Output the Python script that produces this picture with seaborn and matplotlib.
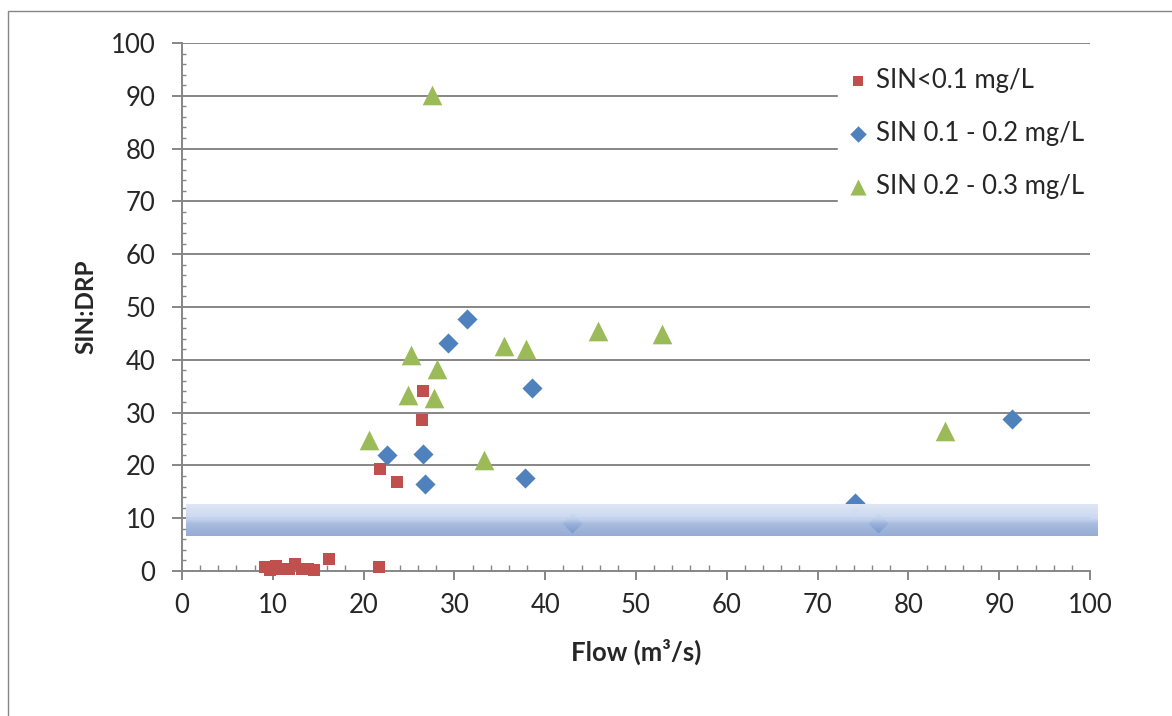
import numpy as np
import pandas as pd
import matplotlib
matplotlib.use("Agg")
import matplotlib.pyplot as plt
import seaborn as sns
from matplotlib.patches import Rectangle
from matplotlib.ticker import MultipleLocator
from matplotlib.colors import to_rgba

# ---------------- data ----------------
low_flow = [9.1, 9.7, 10.3, 10.8, 11.8, 12.4, 13.2, 13.9, 14.5, 16.2, 21.7, 21.8, 23.7, 26.4, 26.5]
low_ratio = [0.7, 0.2, 1.0, 0.3, 0.3, 1.4, 0.3, 0.3, 0.1, 2.3, 0.7, 19.3, 16.9, 28.6, 34.1]

mid_flow = [22.6, 26.5, 26.8, 29.3, 31.4, 37.8, 38.5, 43.0, 74.1, 76.7, 91.4]
mid_ratio = [22.0, 22.2, 16.5, 43.2, 47.7, 17.6, 34.7, 9.0, 12.9, 9.0, 28.8]

high_flow = [20.6, 24.9, 25.2, 27.5, 27.8, 28.1, 33.3, 35.5, 37.9, 45.8, 52.9, 84.0]
high_ratio = [24.8, 33.3, 40.9, 90.2, 32.8, 38.3, 21.0, 42.6, 42.0, 45.5, 44.9, 26.5]

series_labels = ["SIN<0.1 mg/L", "SIN 0.1 - 0.2 mg/L", "SIN 0.2 - 0.3 mg/L"]
band_low, band_high = 6.7, 12.7

x_ticks = list(range(0, 101, 10))
y_ticks = list(range(0, 101, 10))

# ---------------- style ----------------
sns.set_theme(style="white")
plt.rcParams["font.family"] = ["Lato", "DejaVu Sans"]

grey = "#868686"
colors = ["#C0504D", "#4F81BD", "#9BBB59"]
markers = ["s", "D", "^"]
sizes = [80, 105, 200]

W, H = 1172, 716
fig = plt.figure(figsize=(W / 100, H / 100), dpi=100)
ax = fig.add_axes([182 / W, (H - 571) / H, 908 / W, 528 / H])

# outer chart border
fig.patches.append(Rectangle((8 / W, -0.01), 1.2, (H - 11) / H + 0.01,
                             transform=fig.transFigure, fill=False,
                             edgecolor=grey, linewidth=1.0, zorder=0))

frames = [
    pd.DataFrame({"flow": low_flow, "ratio": low_ratio}),
    pd.DataFrame({"flow": mid_flow, "ratio": mid_ratio}),
    pd.DataFrame({"flow": high_flow, "ratio": high_ratio}),
]
for df, lab, c, m, s in zip(frames, series_labels, colors, markers, sizes):
    sns.scatterplot(data=df, x="flow", y="ratio", ax=ax, color=c, marker=m,
                    s=s, linewidth=0, label=lab, zorder=3, clip_on=False)

# gradient band
stops = [(0.0, "#DFE7F5"), (0.45, "#C8D6EF"), (0.62, "#A2B7DE"), (1.0, "#7D98CA")]
n = 100
pos = np.linspace(0, 1, n)
grad = np.zeros((n, 1, 4))
for ch in range(3):
    grad[:, 0, ch] = np.interp(pos, [p for p, _ in stops],
                               [to_rgba(c)[ch] for _, c in stops])
grad[:, 0, 3] = np.interp(pos, [0, 0.55, 1.0], [1.0, 0.95, 0.8])
ax.imshow(grad, extent=[0.4, 100.8, band_low, band_high], aspect="auto",
          origin="upper", zorder=4, clip_on=False, interpolation="bilinear")

ax.set_xlim(0, 100)
ax.set_ylim(0, 100)
ax.set_xticks(x_ticks)
ax.set_yticks(y_ticks)
ax.xaxis.set_minor_locator(MultipleLocator(2))
ax.yaxis.set_minor_locator(MultipleLocator(2))

ax.grid(False)
for yv in y_ticks[1:]:
    ax.axhline(yv, color=grey, linewidth=1.4, zorder=1)

for side in ["top", "right"]:
    ax.spines[side].set_visible(False)
for side in ["left", "bottom"]:
    ax.spines[side].set_color(grey)
    ax.spines[side].set_linewidth(1.4)
    ax.spines[side].set_zorder(2)

ax.tick_params(axis="y", which="major", direction="out", length=7.5, width=1.4,
               color=grey, labelsize=18.5, pad=11.5, left=True)
ax.tick_params(axis="y", which="minor", direction="in", length=3, width=1.0,
               color=grey, left=True)
ax.tick_params(axis="x", which="major", direction="out", length=6.5, width=1.4,
               color=grey, labelsize=18.5, pad=9.5, bottom=True)
ax.tick_params(axis="x", which="minor", direction="in", length=4, width=1.0,
               color=grey, bottom=True)

ax.set_xlabel("Flow (m³/s)", fontsize=18.5, fontweight="bold")
ax.set_ylabel("SIN:DRP", fontsize=17.5, fontweight="bold")
ax.xaxis.set_label_coords(0.5, -0.128)
ax.yaxis.set_label_coords(-0.093, 0.5)

leg = ax.legend(loc="upper left", bbox_to_anchor=(0.7225, 0.971), frameon=True,
                fontsize=18.5, labelspacing=1.08, handletextpad=0.3,
                handlelength=0.8, borderpad=0.38, borderaxespad=0,
                markerscale=0.82)
leg.get_frame().set_facecolor("white")
leg.get_frame().set_edgecolor("white")
leg.get_frame().set_alpha(1)
leg.set_zorder(6)

fig.savefig("out.png", dpi=100, facecolor="white")
